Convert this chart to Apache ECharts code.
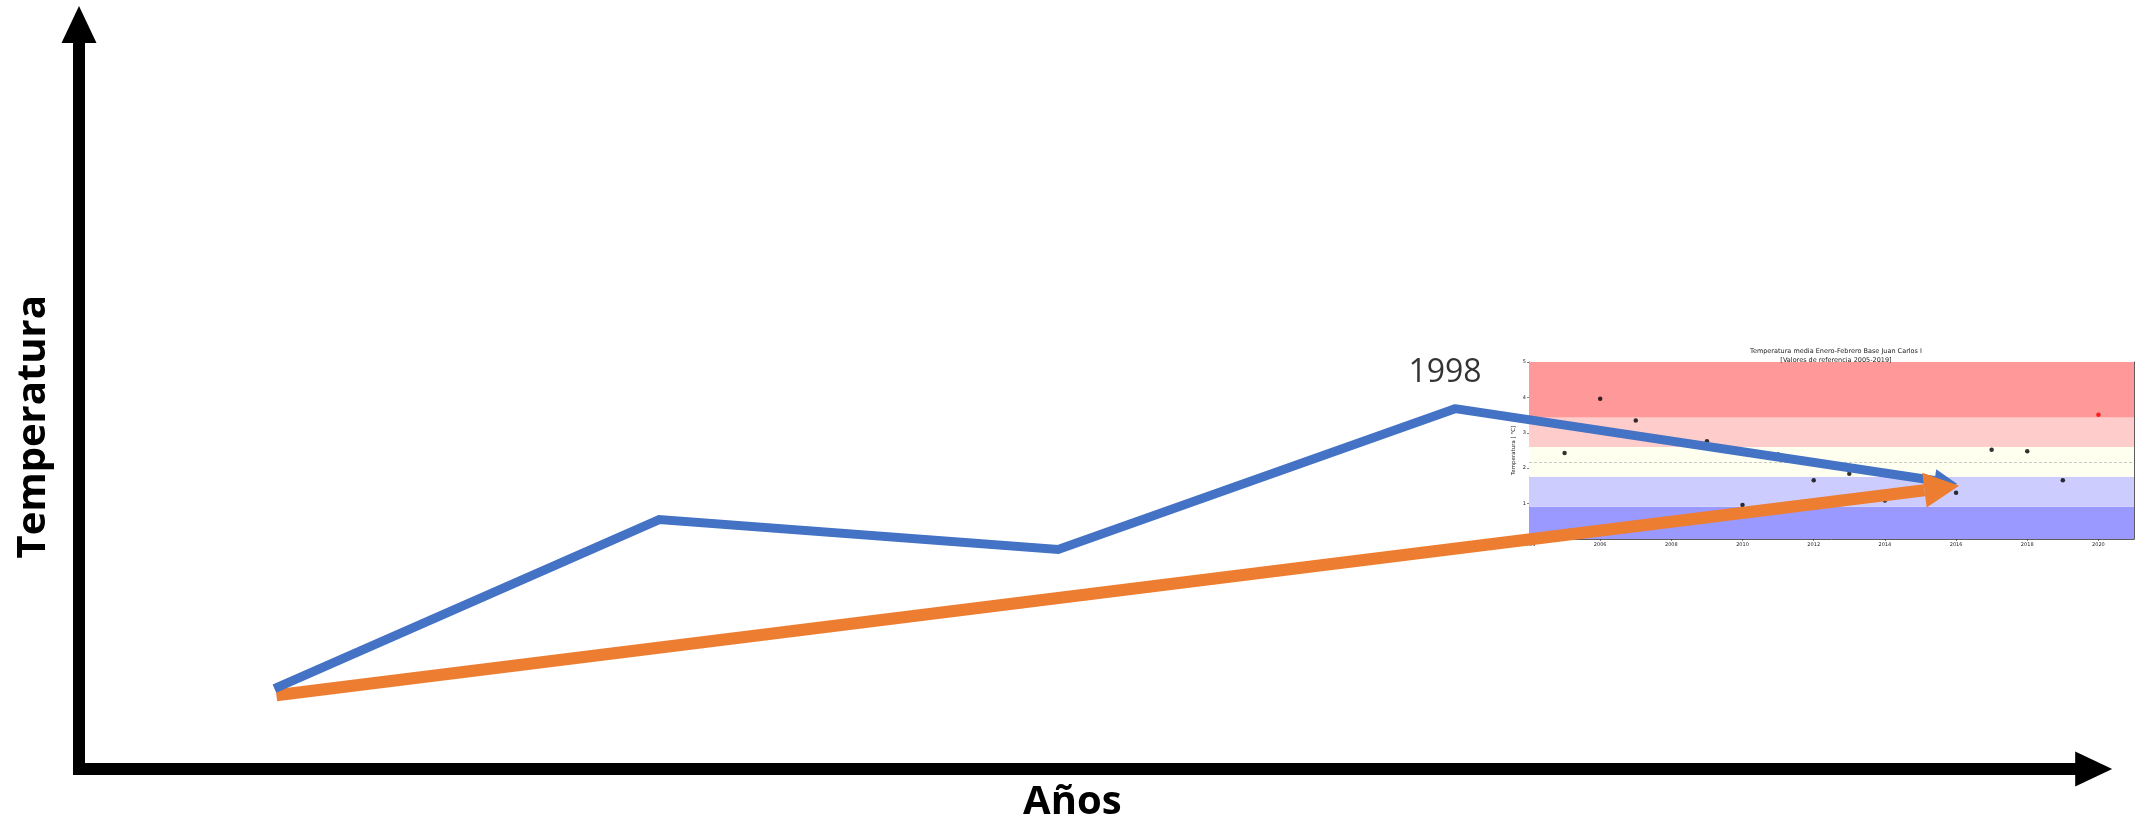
<!DOCTYPE html>
<html>
<head>
<meta charset="utf-8">
<script src="https://cdn.jsdelivr.net/npm/echarts@6/dist/echarts.min.js"></script>
<style>
html,body{margin:0;padding:0;background:#fff;}
#c{width:2149px;height:829px;}
</style>
</head>
<body>
<div id="c"></div>
<script>
// ---- Main schematic (abstract units 0..100) ----
// last point of each list = base of the arrowhead
const blueX = [9.7, 28.8, 48.6, 68.3, 92.1];
const blueY = [10.8, 33.5, 29.5, 48.4, 38.75];
const orangeX = [9.8, 91.6];
const orangeY = [9.9, 37.45];
const peakLabel = '1998';
const mainXName = 'Años';
const mainYName = 'Temperatura';

// ---- Inset chart ----
const insetTitle = 'Temperatura media Enero-Febrero Base Juan Carlos I';
const insetSubtitle = '[Valores de referencia 2005-2019]';
const insetYName = 'Temperatura [ °C]';
const insetYears = [2005, 2006, 2007, 2009, 2010, 2011, 2012, 2013, 2014, 2016, 2017, 2018, 2019, 2020];
const insetTemps = [2.43, 3.96, 3.35, 2.76, 0.96, 2.39, 1.66, 1.84, 1.09, 1.31, 2.52, 2.48, 1.66, 3.51];
const highlightYear = 2020;
const bandEdges = [0, 0.91, 1.76, 2.6, 3.43, 5];
const referenceMean = 2.18;
const insetXRange = [2004, 2021];
const insetYRange = [0, 5];

const bandColors = ['#9999ff', '#ccccff', '#fffff0', '#ffcccc', '#ff9999'];
const BLUE = '#4472C4', ORANGE = '#ED7D31';

const chart = echarts.init(document.getElementById('c'), null, {renderer: 'canvas'});

const bluePath = blueX.slice(0, 4).map((x, i) => [x, blueY[i]]);

const bands = [];
for (let i = 0; i < bandEdges.length - 1; i++) {
  bands.push([
    {yAxis: bandEdges[i], itemStyle: {color: bandColors[i], opacity: 1}},
    {yAxis: bandEdges[i + 1]}
  ]);
}

const insetFont = 'DejaVu Sans';

// arrow: line from (x0,y0) to the arrowhead base (x1,y1); head drawn beyond it
function arrowMarkLine(x0, y0, x1, y1, color, width, headSize, cap) {
  return {
    silent: true,
    symbol: ['none', 'triangle'],
    symbolSize: headSize,
    symbolOffset: [[0, 0], [0, '-50%']],
    label: {show: false},
    emphasis: {disabled: true},
    lineStyle: {color: color, width: width, type: 'solid', opacity: 1, cap: cap},
    data: [[{coord: [x0, y0]}, {coord: [x1, y1]}]]
  };
}

const option = {
  animation: false,
  backgroundColor: '#ffffff',
  title: {
    text: insetTitle + '\n' + insetSubtitle,
    left: 1831, top: 342,
    textAlign: 'center',
    textStyle: {fontFamily: insetFont, fontSize: 6.5, fontWeight: 'normal', color: '#222', lineHeight: 9}
  },
  grid: [
    {left: 79, right: 55.3, top: 24.5, bottom: 60},
    {left: 1529, right: 15, top: 362, bottom: 290}
  ],
  xAxis: [
    {
      gridIndex: 0, type: 'value', min: 0, max: 100,
      name: mainXName, nameLocation: 'middle', nameGap: 14,
      nameTextStyle: {fontFamily: 'Open Sans', fontWeight: 'bold', fontSize: 40, color: '#000', verticalAlign: 'top', padding: [0, 28, 0, 0]},
      axisLine: {show: true, symbol: ['none', 'triangle'], symbolSize: [35, 37], lineStyle: {color: '#000', width: 12}},
      axisTick: {show: false}, axisLabel: {show: false}, splitLine: {show: false}
    },
    {
      gridIndex: 1, type: 'value', min: insetXRange[0], max: insetXRange[1], interval: 2,
      axisLine: {show: true, onZero: false, lineStyle: {color: '#333', width: 0.8}},
      axisTick: {show: true, length: 2, lineStyle: {color: '#333', width: 0.6}},
      axisLabel: {show: true, fontFamily: insetFont, fontSize: 5, color: '#222', margin: 3,
        showMinLabel: true, showMaxLabel: false, hideOverlap: false, formatter: v => String(v)},
      splitLine: {show: false}
    },
    {
      gridIndex: 1, type: 'value', min: insetXRange[0], max: insetXRange[1], position: 'top',
      axisLine: {show: true, onZero: false, lineStyle: {color: '#333', width: 0.8}},
      axisTick: {show: false}, axisLabel: {show: false}, splitLine: {show: false}
    }
  ],
  yAxis: [
    {
      gridIndex: 0, type: 'value', min: 0, max: 100,
      name: mainYName, nameLocation: 'middle', nameGap: 25, nameRotate: 90,
      nameTextStyle: {fontFamily: 'Open Sans', fontWeight: 'bold', fontSize: 40, color: '#000', padding: [0, 60, 0, 0]},
      axisLine: {show: true, symbol: ['none', 'triangle'], symbolSize: [35, 37], lineStyle: {color: '#000', width: 12, cap: 'square'}},
      axisTick: {show: false}, axisLabel: {show: false}, splitLine: {show: false}
    },
    {
      gridIndex: 1, type: 'value', min: insetYRange[0], max: insetYRange[1], interval: 1,
      name: insetYName, nameLocation: 'middle', nameGap: 12, nameRotate: 90,
      nameTextStyle: {fontFamily: insetFont, fontSize: 5.5, color: '#222'},
      axisLine: {show: true, onZero: false, lineStyle: {color: '#333', width: 0.8}},
      axisTick: {show: true, length: 2, lineStyle: {color: '#333', width: 0.6}},
      axisLabel: {show: true, fontFamily: insetFont, fontSize: 5, color: '#222', margin: 3},
      splitLine: {show: false}
    },
    {
      gridIndex: 1, type: 'value', min: insetYRange[0], max: insetYRange[1], position: 'right',
      axisLine: {show: true, onZero: false, lineStyle: {color: '#333', width: 0.8}},
      axisTick: {show: false}, axisLabel: {show: false}, splitLine: {show: false}
    }
  ],
  series: [
    {
      name: 'inset',
      type: 'scatter', xAxisIndex: 1, yAxisIndex: 1, z: 3,
      symbol: 'circle', symbolSize: 4.5,
      data: insetYears.map((y, i) => ({
        value: [y, insetTemps[i]],
        itemStyle: {color: y === highlightYear ? '#ff0000' : '#000000'}
      })),
      markArea: {silent: true, z: 1, data: bands},
      markLine: {
        silent: true, symbol: ['none', 'none'], label: {show: false},
        lineStyle: {color: '#bbbbbb', type: [3, 2], width: 0.8},
        data: [{yAxis: referenceMean}]
      }
    },
    {
      name: 'blue',
      type: 'line', xAxisIndex: 0, yAxisIndex: 0, z: 10,
      symbol: 'none', showSymbol: false,
      lineStyle: {color: BLUE, width: 9, join: 'miter'},
      data: bluePath,
      markLine: arrowMarkLine(blueX[3], blueY[3], blueX[4], blueY[4], BLUE, 9, 23, 'round')
    },
    {
      name: 'peak',
      type: 'scatter', xAxisIndex: 0, yAxisIndex: 0, z: 12,
      symbolSize: 1, itemStyle: {color: 'rgba(0,0,0,0)'},
      label: {show: true, position: 'top', distance: 19, offset: [-10, 0], formatter: peakLabel,
        fontFamily: 'Open Sans', fontSize: 32, color: '#000'},
      data: [[blueX[3], blueY[3]]]
    },
    {
      name: 'orange',
      type: 'line', xAxisIndex: 0, yAxisIndex: 0, z: 13,
      symbol: 'none', showSymbol: false,
      lineStyle: {width: 0, opacity: 0},
      data: [[orangeX[0], orangeY[0]]],
      markLine: arrowMarkLine(orangeX[0], orangeY[0], orangeX[1], orangeY[1], ORANGE, 12, 35, 'butt')
    }
  ]
};
chart.setOption(option);
</script>
</body>
</html>
